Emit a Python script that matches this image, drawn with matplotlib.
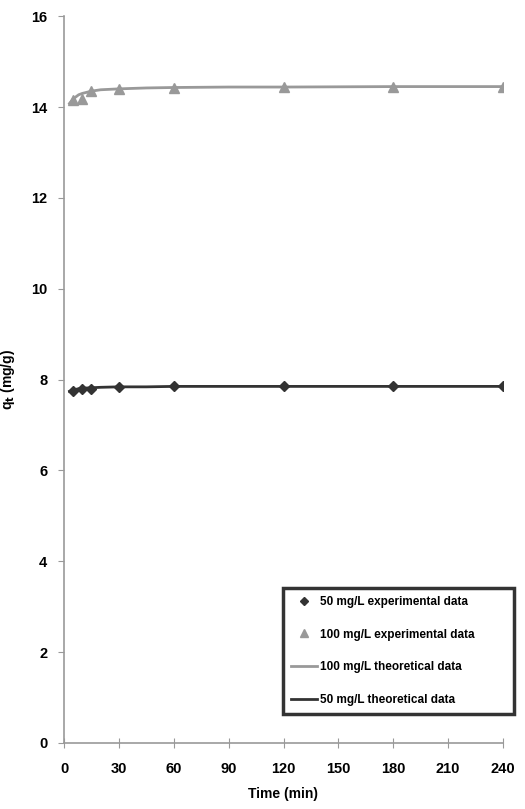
import matplotlib.pyplot as plt

plt.rcParams['font.family'] = ['Liberation Sans', 'DejaVu Sans']
plt.rcParams['font.weight'] = 'bold'

# experimental data
time_exp = [5, 10, 15, 30, 60, 120, 180, 240]
q_50_exp = [7.75, 7.8, 7.8, 7.84, 7.85, 7.85, 7.85, 7.85]
q_100_exp = [14.15, 14.18, 14.35, 14.4, 14.42, 14.44, 14.44, 14.45]

# theoretical curves
time_fit = [3, 5, 8, 10, 15, 20, 30, 45, 60, 90, 120, 180, 240]
q_50_fit = [7.74, 7.77, 7.8, 7.81, 7.82, 7.83, 7.84, 7.84, 7.85, 7.85, 7.85, 7.85, 7.85]
q_100_fit = [14.08, 14.18, 14.27, 14.3, 14.35, 14.38, 14.4, 14.42, 14.43, 14.44, 14.44, 14.45, 14.45]

x_ticks = [0, 30, 60, 90, 120, 150, 180, 210, 240]
y_ticks = [0, 2, 4, 6, 8, 10, 12, 14, 16]

fig = plt.figure(figsize=(5.25, 8.09), dpi=100)
ax = fig.add_axes([0.122, 0.0816, 0.836, 0.8984])

ax.plot(time_exp, q_50_exp, 'D', color='#333333', markersize=5,
        label='50 mg/L experimental data', zorder=3)
ax.plot(time_exp, q_100_exp, '^', color='#999999', markersize=7,
        label='100 mg/L experimental data', zorder=3)
ax.plot(time_fit, q_100_fit, '-', color='#999999', linewidth=2,
        label='100 mg/L theoretical data')
ax.plot(time_fit, q_50_fit, '-', color='#333333', linewidth=2,
        label='50 mg/L theoretical data')

ax.set_xlim(0, 240)
ax.set_ylim(0, 16)
ax.set_xticks(x_ticks)
ax.set_yticks(y_ticks)
ax.set_xlabel('Time (min)', fontsize=10, fontweight='bold', labelpad=8)
ax.set_ylabel('q$_\\mathbf{t}$ (mg/g)', fontsize=10, fontweight='bold', labelpad=10)

for s in ['top', 'right']:
    ax.spines[s].set_visible(False)
for s in ['left', 'bottom']:
    ax.spines[s].set_color('#999999')
    ax.spines[s].set_linewidth(1.2)
ax.tick_params(axis='y', direction='out', length=4, color='#999999', labelsize=10.5, pad=8)
ax.tick_params(axis='x', direction='inout', length=7, color='#999999', labelsize=10.5, pad=10)

leg = fig.legend(loc='lower left', bbox_to_anchor=(0.528, 0.110, 0.462, 0.161),
                 mode='expand', fontsize=8.5, labelspacing=1.75, handlelength=2.2,
                 handletextpad=0.2, fancybox=False, borderpad=0.7, markerscale=0.75)
leg.get_frame().set_edgecolor('black')
leg.get_frame().set_linewidth(2.5)

plt.savefig('out.png', dpi=100)
